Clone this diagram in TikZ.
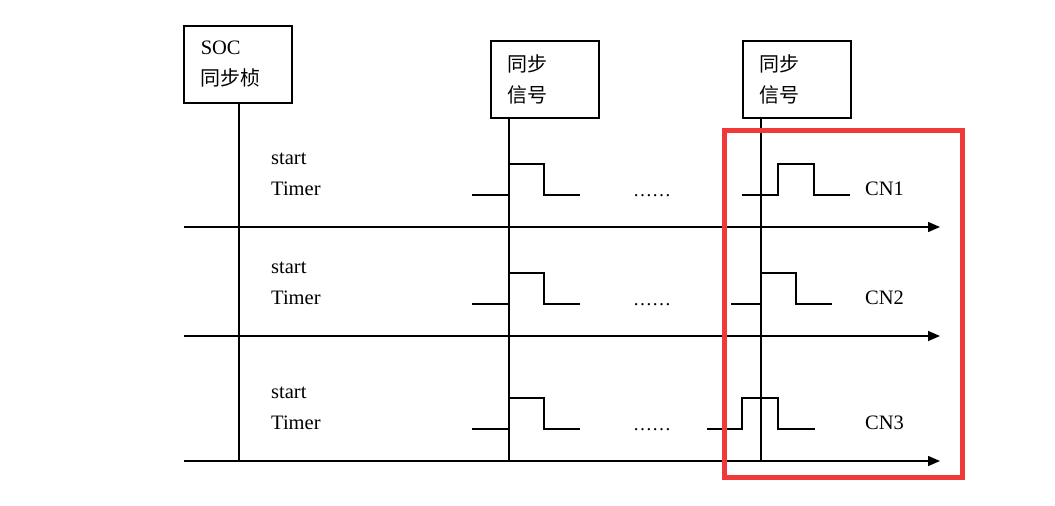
\documentclass[tikz,border=0pt]{standalone}
\usepackage{fontspec}
\setmainfont{Liberation Serif}
\newfontfamily\cjk{Noto Sans CJK SC}
\usepackage{xcolor}
\definecolor{FrameRed}{HTML}{F03A3A}
\usetikzlibrary{arrows.meta}

\begin{document}
\begin{tikzpicture}[x=1pt,y=-1pt,
  lbl/.style={font=\fontsize{20.5}{24}\selectfont,inner sep=0pt,anchor=base west},
  sigbox/.style={draw,line width=1.5pt,align=left,font=\fontsize{20.5}{31}\selectfont,text width=74pt,inner xsep=17pt,minimum height=77pt,anchor=north west},
  axis/.style={-{Triangle[length=12pt,width=10pt]},line width=1.5pt},
  wave/.style={line width=1.5pt}
]
  \useasboundingbox (0,0) rectangle (1055,506);
  % boxes on top
  \node[sigbox] (soc) at (183,25) {SOC\\{\cjk\fontsize{20}{31}\selectfont 同步桢}};
  \node[sigbox] (sync1) at (490,40) {{\cjk\fontsize{20}{31}\selectfont 同步}\\{\cjk\fontsize{20}{31}\selectfont 信号}};
  \node[sigbox] (sync2) at (742,40) {{\cjk\fontsize{20}{31}\selectfont 同步}\\{\cjk\fontsize{20}{31}\selectfont 信号}};
  % time axes
  \foreach \r/\ya in {1/227,2/336,3/461}{
    \coordinate (ax\r s) at (184,\ya);
    \coordinate (ax\r e) at (940,\ya);
    \draw[axis] (ax\r s) -- (ax\r e);
  }
  % vertical marks
  \draw[wave] ([xshift=1pt]soc.south) -- ([xshift=1pt]soc.south |- ax3s);
  \draw[wave] ([xshift=19pt]sync1.south west) -- ([xshift=19pt]sync1.south west |- ax3s);
  \draw[wave] ([xshift=19pt]sync2.south west) -- ([xshift=19pt]sync2.south west |- ax3s);
  % rows
  \foreach \r/\yb/\yh/\a/\b/\c/\d in {1/195/164/742/778/814/850,2/304/273/731/761/796/832,3/429/398/707/742/778/815}{
    \node[lbl] (start\r) at (271,\yb-31) {start};
    \node[lbl] (timer\r) at (271,\yb) {Timer};
    \draw[wave] (472,\yb) -- (509,\yb) -- (509,\yh) -- (544,\yh) -- (544,\yb) -- (580,\yb);
    \node[lbl,font=\fontsize{19}{23}\selectfont] (dots\r) at (633,\yb+1) {……};
    \draw[wave] (\a,\yb) -- (\b,\yb) -- (\b,\yh) -- (\c,\yh) -- (\c,\yb) -- (\d,\yb);
    \node[lbl] (cn\r) at (865,\yb) {CN\r};
  }
  % highlight frame
  \draw[FrameRed,line width=5pt] (724,130) rectangle (962,477);
\end{tikzpicture}
\end{document}
